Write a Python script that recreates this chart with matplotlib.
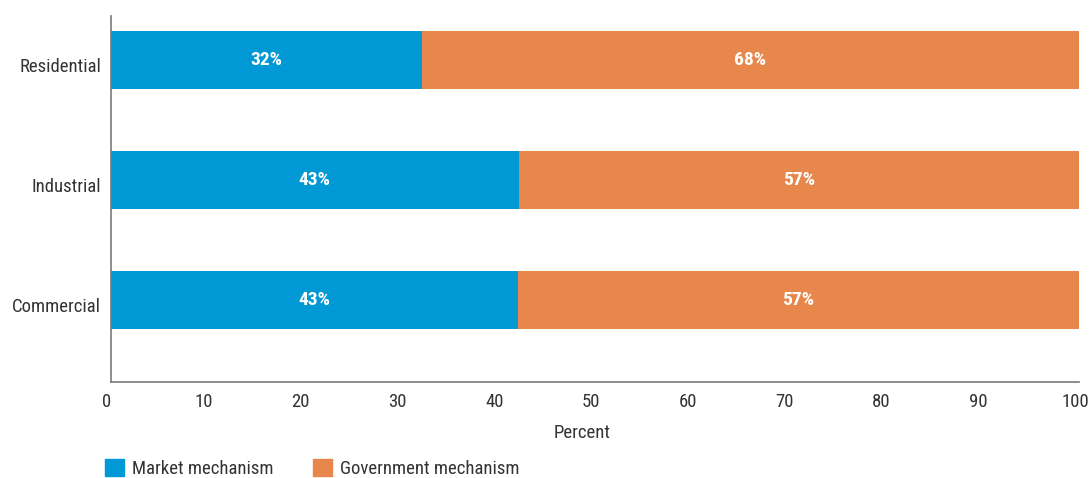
import matplotlib
matplotlib.use("Agg")
import matplotlib.pyplot as plt
import matplotlib.transforms as mtransforms
from matplotlib.patches import Patch

plt.rcParams['font.family'] = ['Roboto Condensed', 'DejaVu Sans']

categories = ["Commercial", "Industrial", "Residential"]
market = [42.0, 42.1, 32.1]
government = [58.0, 57.9, 67.9]
market_labels = ["43%", "43%", "32%"]
government_labels = ["57%", "57%", "68%"]
xticks = [0, 10, 20, 30, 40, 50, 60, 70, 80, 90, 100]

blue = "#0099d5"
orange = "#e8874b"
text_color = "#333333"
axis_color = "#7a7a7a"

fig = plt.figure(figsize=(10.91, 4.78), dpi=100)
ax = fig.add_axes([111 / 1091, 96 / 478, 968 / 1091, 366 / 478])

ypos = list(range(len(categories)))
b1 = ax.barh(ypos, market, height=0.48, color=blue, label="Market mechanism")
b2 = ax.barh(ypos, government, left=market, height=0.48, color=orange,
             label="Government mechanism")
ax.bar_label(b1, labels=market_labels, label_type="center", color="white",
             fontsize=14, fontweight="bold")
ax.bar_label(b2, labels=government_labels, label_type="center", color="white",
             fontsize=14, fontweight="bold")

ax.set_xlim(0, 100)
ax.set_ylim(-0.683, 2.367)
ax.set_yticks(ypos)
ax.set_yticklabels(categories)
ax.set_xticks(xticks)
ax.tick_params(axis="both", length=0, colors=text_color, labelsize=13.5)
ax.tick_params(axis="x", pad=8)
ax.tick_params(axis="y", pad=7)
# tick text sits a few pixels off the exact positions in the original
xshift = mtransforms.ScaledTranslation(-4 / 100, 0, fig.dpi_scale_trans)
for lab in ax.get_xticklabels():
    lab.set_transform(lab.get_transform() + xshift)
yshift = mtransforms.ScaledTranslation(0, -5 / 100, fig.dpi_scale_trans)
for lab in ax.get_yticklabels():
    lab.set_transform(lab.get_transform() + yshift)

ax.spines["top"].set_visible(False)
ax.spines["right"].set_visible(False)
for s in ("left", "bottom"):
    ax.spines[s].set_color(axis_color)
    ax.spines[s].set_linewidth(1.2)

ax.set_xlabel("Percent", fontsize=13.5, color=text_color)
ax.xaxis.set_label_coords(0.487, -0.115)

handles = [Patch(color=blue, label="Market mechanism"),
           Patch(color=orange, label="Government mechanism")]
fig.legend(handles=handles, loc="lower left", bbox_to_anchor=(88 / 1091, -0.035),
           ncol=2, frameon=False, fontsize=13.5, handlelength=1.0, handleheight=1.0,
           handletextpad=0.45, columnspacing=2.1, labelcolor=text_color)

fig.savefig("out.png", dpi=100)
